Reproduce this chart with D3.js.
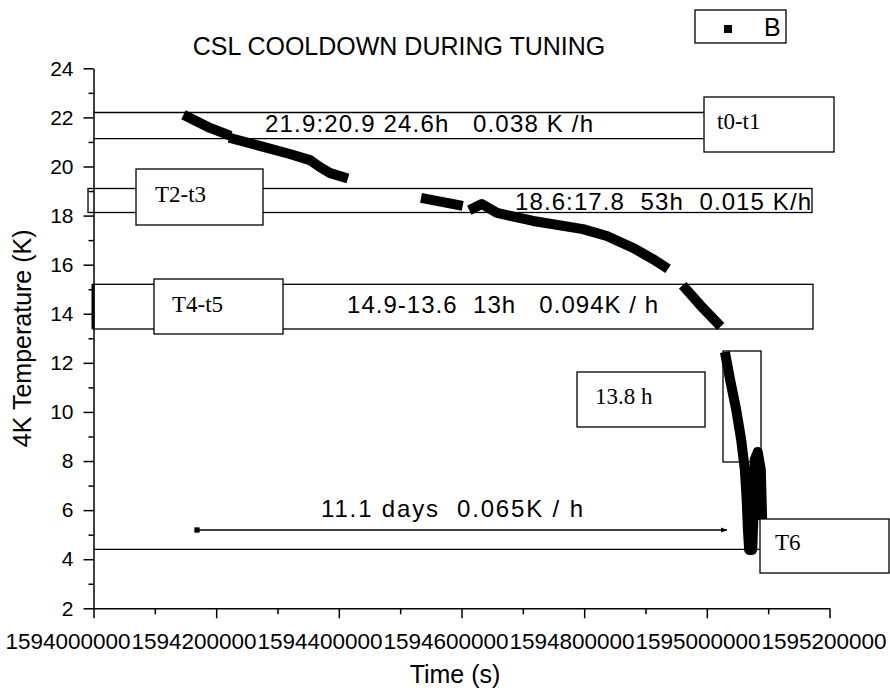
<!DOCTYPE html>
<html>
<head>
<meta charset="utf-8">
<script src="https://cdn.jsdelivr.net/npm/d3@7"></script>
<style>
  body { margin: 0; background: #fff; }
  text { font-family: "Liberation Sans", Arial, sans-serif; fill: #000; }
  text.serif { font-family: "Liberation Serif", "Times New Roman", serif; }
</style>
</head>
<body>
<div id="chart"></div>
<script>
// 4K stage temperature, one pair of arrays per unbroken stretch of the record
const run1Time = [1594154000, 1594190000, 1594216000];
const run1Temp = [22.02, 21.57, 21.32];
const run2Time = [1594229000, 1594271000, 1594320000, 1594353000, 1594369000, 1594386000, 1594407000];
const run2Temp = [21.12, 20.84, 20.51, 20.26, 19.98, 19.73, 19.57];
const run3Time = [1594542000, 1594594000];
const run3Temp = [18.68, 18.43];
const run4Time = [1594620000, 1594633000, 1594658000, 1594717000, 1594798000, 1594837000, 1594880000, 1594912000, 1594930000];
const run4Temp = [18.31, 18.47, 18.11, 17.78, 17.45, 17.17, 16.68, 16.23, 15.94];
const run5Time = [1594966000, 1594989000, 1595017000];
const run5Temp = [15.01, 14.36, 13.63];
const run6Time = [1595031000, 1595038000, 1595048000, 1595056000, 1595062000, 1595065000, 1595067000, 1595069000,
                  1595074000, 1595077000, 1595078000, 1595083000, 1595088000, 1595090000];
const run6Temp = [12.24, 11.30, 10.08, 8.86, 7.64, 6.41, 5.19, 4.38,
                  4.38, 6.41, 8.05, 8.37, 7.64, 5.81];

// axis ticks
const xMajor = [1594000000, 1594200000, 1594400000, 1594600000, 1594800000, 1595000000, 1595200000];
const xMinor = [1594100000, 1594300000, 1594500000, 1594700000, 1594900000, 1595100000];
const yMajor = [2, 4, 6, 8, 10, 12, 14, 16, 18, 20, 22, 24];
const yMinor = [3, 5, 7, 9, 11, 13, 15, 17, 19, 21, 23];

const runs = [
    [run1Time, run1Temp], [run2Time, run2Temp], [run3Time, run3Temp],
    [run4Time, run4Temp], [run5Time, run5Temp], [run6Time, run6Temp]
].map(([t, k]) => t.map((d, i) => ({time: d, temp: k[i]})));

const width = 890, height = 693;

const x = d3.scaleLinear().domain([1594000000, 1595200000]).range([93.5, 829.5]);
const y = d3.scaleLinear().domain([2, 24]).range([608.3, 68.3]);

const svg = d3.select("#chart").append("svg")
    .attr("width", width)
    .attr("height", height)
    .attr("viewBox", [0, 0, width, height]);

svg.append("defs").append("marker")
    .attr("id", "arrow")
    .attr("viewBox", "0 0 10 10")
    .attr("refX", 10).attr("refY", 5)
    .attr("markerWidth", 10).attr("markerHeight", 6)
    .attr("markerUnits", "userSpaceOnUse")
    .attr("orient", "auto")
    .append("path").attr("d", "M0,1L10,5L0,9Z").attr("fill", "#000");

// the curve itself (Origin draws it as a run of square markers)
const line = d3.line().x(d => x(d.time)).y(d => y(d.temp));
svg.append("g")
    .attr("fill", "none")
    .attr("stroke", "#000")
    .attr("stroke-width", 10)
    .attr("stroke-linejoin", "round")
    .attr("stroke-linecap", "square")
    .selectAll("path")
    .data(runs)
    .join("path")
    .attr("d", line);

// annotation bands and boxes (page positions, like the Origin text boxes)
const ann = svg.append("g").attr("stroke", "#000").attr("stroke-width", 1.3).attr("fill", "none");

// t0-t1 band
ann.append("line").attr("x1", 93.5).attr("x2", 704).attr("y1", 112.5).attr("y2", 112.5);
ann.append("line").attr("x1", 93.5).attr("x2", 704).attr("y1", 138.7).attr("y2", 138.7);
// T2-t3 band
ann.append("rect").attr("x", 88).attr("y", 188.5).attr("width", 724).attr("height", 24);
// T4-t5 band
ann.append("rect").attr("x", 93).attr("y", 284.3).attr("width", 720).attr("height", 44.7);
ann.append("line").attr("x1", 93).attr("x2", 93).attr("y1", 284).attr("y2", 329).attr("stroke-width", 3);
// narrow box around the fast drop
ann.append("rect").attr("x", 723).attr("y", 351).attr("width", 38).attr("height", 111);
// base line at the final temperature
ann.append("line").attr("x1", 93.5).attr("x2", 760).attr("y1", 549.3).attr("y2", 549.3);
// 11.1 days arrow
ann.append("line").attr("x1", 195).attr("x2", 727).attr("y1", 530).attr("y2", 530)
    .attr("marker-end", "url(#arrow)");
ann.append("rect").attr("x", 195).attr("y", 528).attr("width", 4).attr("height", 4).attr("fill", "#000");

// white label boxes
const boxes = [
    {x: 704, y: 97, w: 130, h: 55, label: "t0-t1", tx: 717, ty: 129},
    {x: 136, y: 169, w: 127, h: 56, label: "T2-t3", tx: 155, ty: 202},
    {x: 154, y: 279, w: 129, h: 55, label: "T4-t5", tx: 172, ty: 312},
    {x: 577, y: 372, w: 128, h: 55, label: "13.8 h", tx: 595, ty: 404},
    {x: 760, y: 519, w: 129, h: 54, label: "T6", tx: 775, ty: 550}
];
const bg = svg.append("g");
bg.selectAll("rect")
    .data(boxes)
    .join("rect")
    .attr("x", d => d.x).attr("y", d => d.y)
    .attr("width", d => d.w).attr("height", d => d.h)
    .attr("fill", "#fff").attr("stroke", "#000").attr("stroke-width", 1.3);
bg.selectAll("text")
    .data(boxes)
    .join("text")
    .attr("class", "serif")
    .attr("x", d => d.tx).attr("y", d => d.ty)
    .attr("font-size", 23)
    .text(d => d.label);

// rate annotations
const notes = [
    {text: "21.9:20.9 24.6h   0.038 K /h", x: 265, y: 132, w: 328},
    {text: "18.6:17.8  53h  0.015 K/h", x: 515, y: 210, w: 296},
    {text: "14.9-13.6  13h   0.094K / h", x: 347, y: 313, w: 311},
    {text: "11.1 days  0.065K / h", x: 321, y: 517, w: 262}
];
svg.append("g")
    .selectAll("text")
    .data(notes)
    .join("text")
    .attr("x", d => d.x).attr("y", d => d.y)
    .attr("font-size", 24)
    .attr("textLength", d => d.w)
    .attr("lengthAdjust", "spacing")
    .style("white-space", "pre")
    .text(d => d.text);

// axes
const xAxis = svg.append("g")
    .attr("transform", `translate(0,${y(2)})`)
    .call(d3.axisBottom(x).tickValues(xMajor).tickSize(10).tickSizeOuter(0)
        .tickPadding(15).tickFormat(d3.format("d")));
xAxis.append("g").call(d3.axisBottom(x).tickValues(xMinor).tickSize(6).tickFormat(""))
    .call(g => g.select(".domain").remove());

const yAxis = svg.append("g")
    .attr("transform", `translate(${x(1594000000)},0)`)
    .call(d3.axisLeft(y).tickValues(yMajor).tickSize(10).tickSizeOuter(0).tickPadding(10));
yAxis.append("g").call(d3.axisLeft(y).tickValues(yMinor).tickSize(5).tickFormat(""))
    .call(g => g.select(".domain").remove());

svg.selectAll(".domain, .tick line").attr("stroke", "#000").attr("stroke-width", 1.5);
// Origin spreads the long labels a bit wider than the ticks
xAxis.selectAll(".tick text")
    .attr("font-size", 22.5).attr("fill", "#000")
    .attr("x", (d, i) => 67.5 + i * 126 - x(d));
yAxis.selectAll(".tick text").attr("font-size", 21).attr("fill", "#000");
xAxis.attr("font-family", null);
yAxis.attr("font-family", null);

// titles
svg.append("text")
    .attr("x", 399).attr("y", 55)
    .attr("text-anchor", "middle")
    .attr("font-size", 25)
    .text("CSL COOLDOWN DURING TUNING");

svg.append("text")
    .attr("x", 455).attr("y", 683)
    .attr("text-anchor", "middle")
    .attr("font-size", 25)
    .text("Time (s)");

svg.append("text")
    .attr("transform", `translate(31,${(y(2) + y(24)) / 2}) rotate(-90)`)
    .attr("text-anchor", "middle")
    .attr("font-size", 25)
    .text("4K Temperature (K)");

// legend
const legend = svg.append("g");
legend.append("rect")
    .attr("x", 695).attr("y", 10).attr("width", 91).attr("height", 33)
    .attr("fill", "#fff").attr("stroke", "#000").attr("stroke-width", 1.3);
legend.append("rect")
    .attr("x", 724).attr("y", 25).attr("width", 8).attr("height", 8)
    .attr("fill", "#000");
legend.append("text")
    .attr("x", 764).attr("y", 36)
    .attr("font-size", 25)
    .text("B");
</script>
</body>
</html>
